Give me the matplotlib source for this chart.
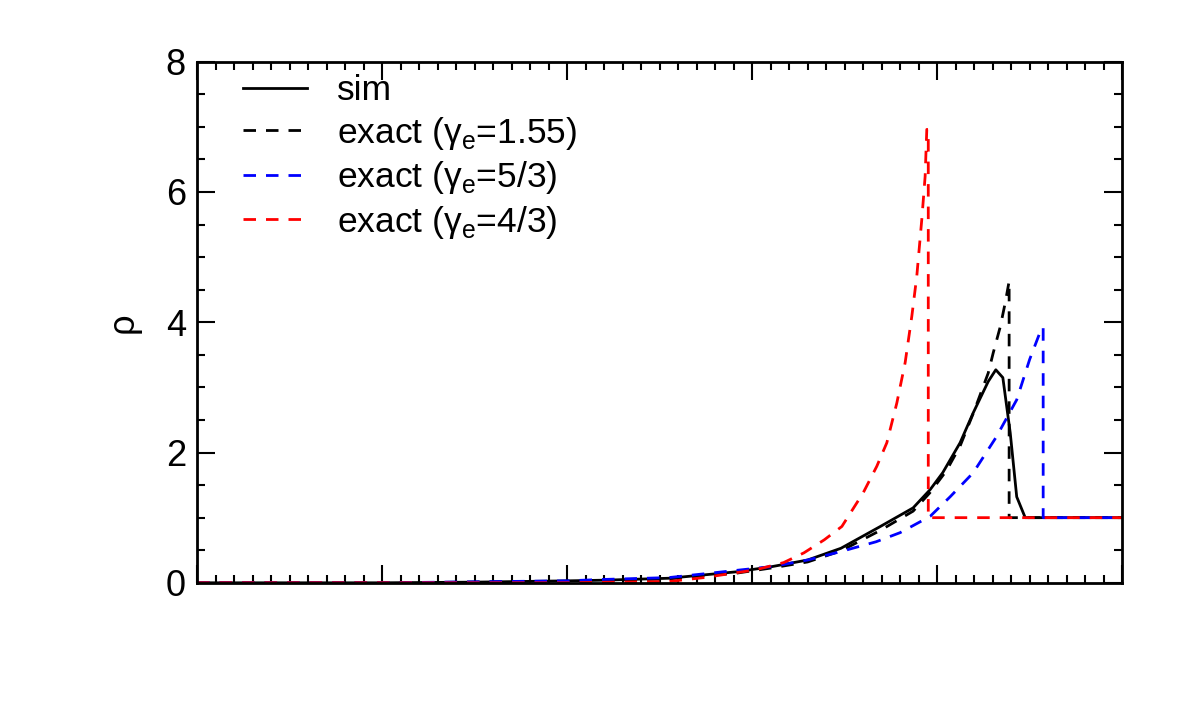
import numpy as np
import matplotlib
matplotlib.use('Agg')
import matplotlib.pyplot as plt
from matplotlib.ticker import MultipleLocator, NullFormatter

plt.rcParams['font.family'] = ['Liberation Sans', 'DejaVu Sans']
plt.rcParams['mathtext.fontset'] = 'custom'
plt.rcParams['mathtext.rm'] = 'Liberation Sans'

# simulation profile
x_sim = [0, 1.0, 1.5, 2.0, 2.2, 2.55, 2.92, 3.11, 3.30, 3.48, 3.69, 3.87, 3.962,
         4.03, 4.124, 4.195, 4.276, 4.317, 4.355, 4.395, 4.43, 4.476, 5.0]
rho_sim = [0, 0.0, 0.01, 0.03, 0.04, 0.07, 0.17, 0.25, 0.35, 0.53, 0.86, 1.15, 1.43,
           1.69, 2.15, 2.61, 3.09, 3.27, 3.15, 2.30, 1.32, 1.0, 1.0]

# exact solutions
x_155 = [0, 1.0, 2.0, 2.55, 2.92, 3.11, 3.30, 3.48, 3.69, 3.87, 3.96, 4.05, 4.124,
         4.195, 4.276, 4.303, 4.341, 4.368, 4.389, 4.389, 5.0]
rho_155 = [0, 0, 0.02, 0.06, 0.15, 0.23, 0.32, 0.49, 0.80, 1.10, 1.38, 1.72, 2.10,
           2.60, 3.22, 3.53, 3.93, 4.30, 4.63, 1.0, 1.0]

x_53 = [0, 1.0, 2.0, 2.18, 2.55, 3.11, 3.30, 3.48, 3.67, 3.80, 3.962, 4.07, 4.195,
        4.32, 4.43, 4.50, 4.566, 4.573, 4.573, 5.0]
rho_53 = [0, 0.0, 0.03, 0.05, 0.08, 0.25, 0.35, 0.48, 0.63, 0.77, 1.02, 1.32, 1.69,
          2.24, 2.81, 3.43, 3.92, 3.92, 1.0, 1.0]

x_43 = [0, 2.0, 2.55, 2.74, 3.02, 3.17, 3.28, 3.39, 3.485, 3.60, 3.674, 3.728, 3.782,
        3.827, 3.863, 3.89, 3.917, 3.935, 3.944, 3.952, 3.952, 5.0]
rho_43 = [0, 0.0, 0.02, 0.08, 0.20, 0.31, 0.46, 0.66, 0.865, 1.38, 1.79, 2.15, 2.76,
          3.38, 4.09, 4.71, 5.58, 6.24, 6.96, 6.96, 1.0, 1.0]

fig = plt.figure(figsize=(11.8, 7.09), dpi=100)
ax = fig.add_axes([0.167, 0.178, 0.784, 0.735])

lw = 2.0
dash = (4.5, 3.6)
ax.plot(x_sim, rho_sim, color='black', lw=lw, label='sim')
ax.plot(x_155, rho_155, color='black', lw=lw, dashes=dash,
        label='exact (γ$_{\\rm e}$=1.55)')
ax.plot(x_53, rho_53, color='blue', lw=lw, dashes=dash,
        label='exact (γ$_{\\rm e}$=5/3)')
ax.plot(x_43, rho_43, color='red', lw=lw, dashes=dash,
        label='exact (γ$_{\\rm e}$=4/3)')

ax.set_xlim(0, 5)
ax.set_ylim(0, 8)
ax.xaxis.set_major_locator(MultipleLocator(1))
ax.xaxis.set_minor_locator(MultipleLocator(0.1))
ax.xaxis.set_major_formatter(NullFormatter())
ax.yaxis.set_major_locator(MultipleLocator(2))
ax.yaxis.set_minor_locator(MultipleLocator(0.5))

ax.tick_params(which='both', direction='in', top=True, right=True, width=1.5)
ax.tick_params(which='major', length=13, labelsize=26, pad=8)
ax.tick_params(which='minor', length=6)
for s in ax.spines.values():
    s.set_linewidth(2)

ax.set_ylabel('ρ', fontsize=26, labelpad=18)

ax.legend(loc='upper left', bbox_to_anchor=(0.05, 0.976), frameon=False,
          fontsize=25.5, handlelength=1.8, handletextpad=0.85, labelspacing=0.21,
          borderaxespad=0, borderpad=0)

fig.savefig('out.png', dpi=100)
